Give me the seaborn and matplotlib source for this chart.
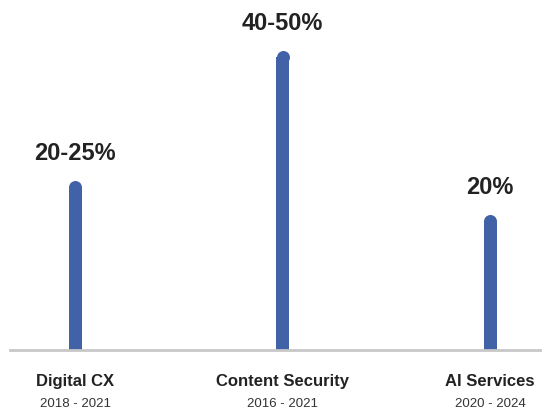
import matplotlib
matplotlib.use("Agg")
import matplotlib.pyplot as plt
import numpy as np
import pandas as pd
import seaborn as sns

# values (top of rounded cap)
categories = ["Digital CX", "Content Security", "AI Services"]
periods = ["2018 - 2021", "2016 - 2021", "2020 - 2024"]
values = [25.1, 44.2, 20.0]
value_labels = ["20-25%", "40-50%", "20%"]

bar_color = "#4262A7"
W, H, DPI = 542, 415, 100

sns.set_theme(style="white")
plt.rcParams["font.family"] = ["Liberation Sans", "DejaVu Sans"]

fig = plt.figure(figsize=(W / DPI, H / DPI), dpi=DPI)
ax = fig.add_axes([10 / W, 65 / H, 532 / W, 350 / H])

ymax = 51.7
bar_w_px = 13
px_per_x = 207.5
r_units = (bar_w_px / 2) / (350 / ymax)

df = pd.DataFrame({"category": categories, "value": values})
df["body"] = df["value"] - r_units

sns.barplot(data=df, x="category", y="body", order=categories, color=bar_color,
            saturation=1, width=bar_w_px / px_per_x, ax=ax, linewidth=0)

# rounded caps
xs = np.arange(len(categories))
ax.plot(xs, df["body"], linestyle="none", marker="o", markersize=bar_w_px * 72 / DPI,
        markerfacecolor=bar_color, markeredgewidth=0, clip_on=False, zorder=3)

ax.set_xlim(-(75 - 10) / px_per_x, -(75 - 10) / px_per_x + 532 / px_per_x)
ax.set_ylim(0, ymax)

for i, (v, lab) in enumerate(zip(values, value_labels)):
    ax.annotate(lab, (i, v), xytext=(0, 27 * 72 / DPI), textcoords="offset points",
                ha="center", va="center", fontsize=17, fontweight="bold", color="#222222")
    ax.annotate(periods[i], (i, 0), xytext=(0, -54 * 72 / DPI), textcoords="offset points",
                ha="center", va="center", fontsize=9.5, color="#333333", annotation_clip=False)

ax.set_xticks(xs)
ax.set_xticklabels(categories, fontsize=12, fontweight="bold", color="#222222")
ax.tick_params(axis="x", length=0, pad=17)
ax.set_yticks([])
ax.set_xlabel("")
ax.set_ylabel("")
for s in ["top", "left", "right"]:
    ax.spines[s].set_visible(False)
ax.spines["bottom"].set_color("#C8C8C8")
ax.spines["bottom"].set_linewidth(2)
ax.grid(False)

fig.savefig("out.png", dpi=DPI)
